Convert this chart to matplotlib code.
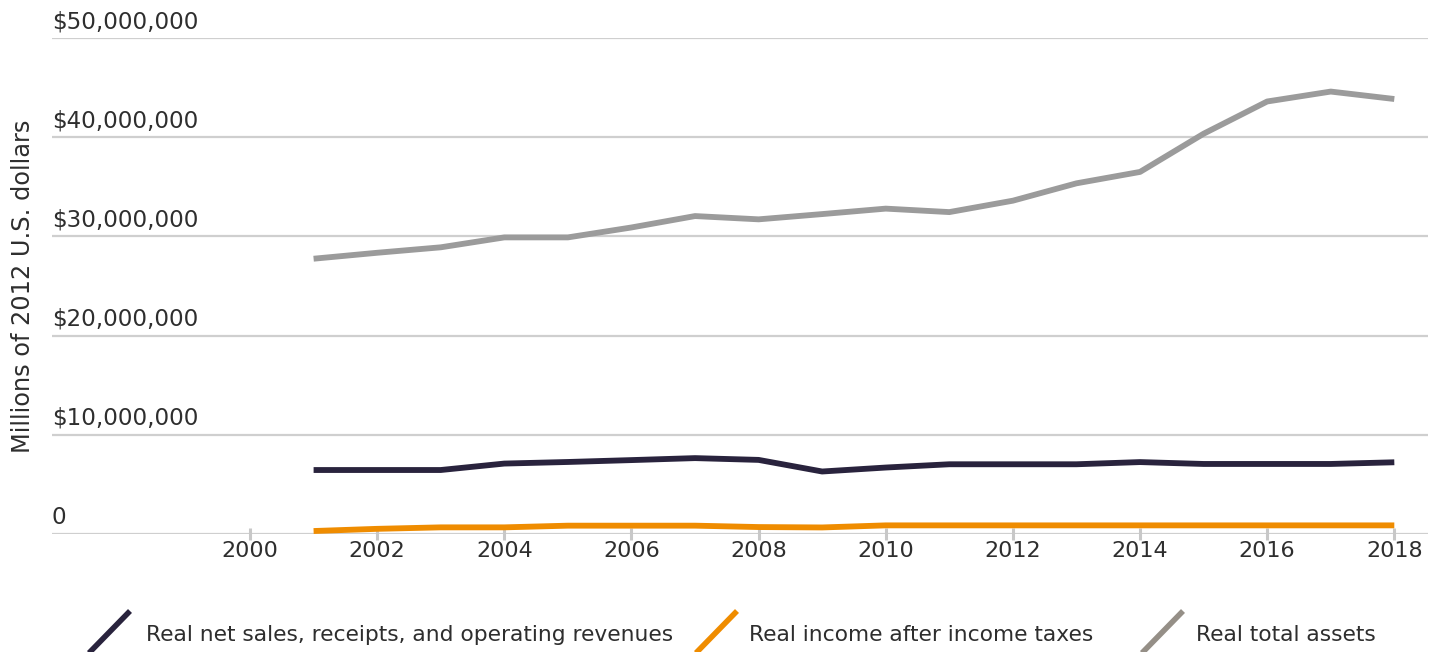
import matplotlib
matplotlib.use("Agg")
import matplotlib.pyplot as plt
from matplotlib.lines import Line2D
from matplotlib.transforms import offset_copy

years = list(range(2001, 2019))
net_sales = [6.45e6, 6.45e6, 6.45e6, 7.1e6, 7.26e6, 7.45e6, 7.65e6, 7.47e6, 6.3e6,
             6.7e6, 7.03e6, 7.03e6, 7.03e6, 7.25e6, 7.06e6, 7.06e6, 7.06e6, 7.23e6]
income = [0.3e6, 0.52e6, 0.67e6, 0.67e6, 0.84e6, 0.84e6, 0.84e6, 0.7e6, 0.66e6,
          0.87e6, 0.87e6, 0.87e6, 0.87e6, 0.87e6, 0.87e6, 0.87e6, 0.87e6, 0.87e6]
total_assets = [27.75e6, 28.35e6, 28.9e6, 29.9e6, 29.9e6, 30.9e6, 32.05e6, 31.72e6, 32.25e6,
                32.8e6, 32.45e6, 33.6e6, 35.35e6, 36.5e6, 40.35e6, 43.6e6, 44.6e6, 43.85e6]

series_labels = ["Real net sales, receipts, and operating revenues",
                 "Real income after income taxes",
                 "Real total assets"]
line_colors = ["#29233d", "#ef8c00", "#9b9b9b"]
legend_colors = ["#29233d", "#ef8c00", "#958f87"]

yticks = [0, 10e6, 20e6, 30e6, 40e6, 50e6]
ytick_labels = ["0", "$10,000,000", "$20,000,000", "$30,000,000", "$40,000,000", "$50,000,000"]
xticks = list(range(2000, 2019, 2))
xtick_labels = [str(y) for y in xticks]
ylabel = "Millions of 2012 U.S. dollars"

text_color = "#2e2e2e"
grid_color = "#cfcfcf"

fig = plt.figure(figsize=(14.46, 6.52), dpi=100)
ax = fig.add_axes([52/1446, 1 - 534/652, (1428 - 52)/1446, (534 - 38)/652])

ax.set_xlim(1996.885, 2018.53)
ax.set_ylim(0, 50e6)

for v in yticks:
    ax.axhline(v, color=grid_color, lw=1.6, zorder=1)

for data, c in zip([net_sales, income, total_assets], line_colors):
    ax.plot(years, data, color=c, lw=4.2, solid_capstyle="butt", solid_joinstyle="round", zorder=3)

for s in ax.spines.values():
    s.set_visible(False)

ax.set_yticks([])
ax.set_xticks(xticks)
ax.set_xticklabels(xtick_labels, fontsize=16, color=text_color)
ax.tick_params(axis="x", direction="inout", length=8, width=2.2, color="#c8c8c8", pad=1)

ytrans = offset_copy(ax.get_yaxis_transform(), fig=fig, x=0, y=3.5, units="points")
for v, lab in zip(yticks, ytick_labels):
    ax.text(0, v, lab, transform=ytrans, ha="left", va="bottom", fontsize=16.6, color=text_color)

fig.text(23/1446, 1 - 286/652, ylabel, rotation=90, ha="center", va="center",
         fontsize=17.3, color=text_color)

# Legend (diagonal line keys at the bottom)
legend_x = [88, 695, 1141]
text_x = [146, 749, 1196]
for lx, tx, c, lab in zip(legend_x, text_x, legend_colors, series_labels):
    fig.add_artist(Line2D([lx/1446, (lx + 42)/1446], [1 - 654/652, 1 - 611/652],
                          transform=fig.transFigure, color=c, lw=4.0, solid_capstyle="butt"))
    fig.text(tx/1446, 1 - 635/652, lab, ha="left", va="center", fontsize=15.7,
             color=text_color)

fig.savefig("out.png", dpi=100)
